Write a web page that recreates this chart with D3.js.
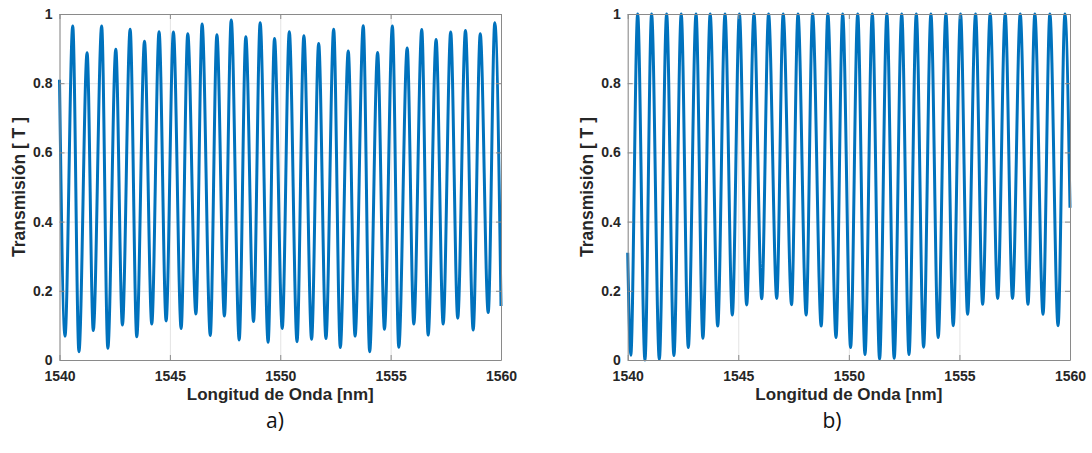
<!DOCTYPE html>
<html>
<head>
<meta charset="utf-8">
<script src="https://cdn.jsdelivr.net/npm/d3@7"></script>
<style>
  body { margin: 0; background: #fff; }
  svg { display: block; }
  text { font-family: "Liberation Sans", Arial, sans-serif; }
</style>
</head>
<body>
<div id="container"></div>
<script>
/* DATA */
const xTicks = [1540, 1545, 1550, 1555, 1560];
const yTicks = [0, 0.2, 0.4, 0.6, 0.8, 1];
const yTickLabels = ["0", "0.2", "0.4", "0.6", "0.8", "1"];

// a) curve: ends, troughs and peaks
const aStart = [1540, 0.81];
const aEnd = [1560, 0.156];
const aTroughNm = [1540.25, 1540.88, 1541.53, 1542.19, 1542.85, 1543.50, 1544.18, 1544.83, 1545.51, 1546.18,
  1546.83, 1547.47, 1548.14, 1548.79, 1549.45, 1550.09, 1550.76, 1551.42, 1552.07, 1552.72,
  1553.39, 1554.05, 1554.72, 1555.37, 1556.05, 1556.70, 1557.38, 1558.04, 1558.74, 1559.42];
const aTroughT = [0.069, 0.024, 0.085, 0.034, 0.101, 0.067, 0.104, 0.113, 0.091, 0.133,
  0.071, 0.127, 0.058, 0.111, 0.051, 0.091, 0.053, 0.060, 0.062, 0.036,
  0.069, 0.024, 0.089, 0.037, 0.104, 0.072, 0.104, 0.121, 0.087, 0.137];
const aPeakNm = [1540.60, 1541.25, 1541.91, 1542.55, 1543.20, 1543.85, 1544.51, 1545.16, 1545.81, 1546.46,
  1547.13, 1547.78, 1548.44, 1549.09, 1549.74, 1550.41, 1551.07, 1551.74, 1552.42, 1553.08,
  1553.76, 1554.41, 1555.08, 1555.75, 1556.41, 1557.06, 1557.72, 1558.39, 1559.06, 1559.72];
const aPeakT = [0.965, 0.888, 0.965, 0.898, 0.956, 0.921, 0.949, 0.948, 0.943, 0.971,
  0.940, 0.983, 0.934, 0.975, 0.929, 0.949, 0.937, 0.915, 0.956, 0.893,
  0.966, 0.889, 0.965, 0.902, 0.955, 0.926, 0.948, 0.952, 0.943, 0.975];

// b) curve
const bStart = [1540, 0.31];
const bEnd = [1560, 0.44];
const bTroughNm = [1540.14, 1540.78, 1541.43, 1542.09, 1542.74, 1543.40, 1544.07, 1544.73, 1545.38, 1546.06,
  1546.74, 1547.41, 1548.07, 1548.75, 1549.42, 1550.08, 1550.73, 1551.39, 1552.05, 1552.72,
  1553.38, 1554.04, 1554.72, 1555.37, 1556.05, 1556.73, 1557.40, 1558.10, 1558.78, 1559.46];
const bTroughT = [0.014, 0.0, 0.002, 0.013, 0.036, 0.063, 0.098, 0.130, 0.159, 0.177,
  0.178, 0.160, 0.130, 0.098, 0.065, 0.036, 0.016, 0.003, 0.005, 0.016,
  0.037, 0.065, 0.099, 0.132, 0.161, 0.178, 0.178, 0.161, 0.132, 0.099];
const bPeakNm = [1540.45, 1541.08, 1541.76, 1542.42, 1543.09, 1543.73, 1544.40, 1545.05, 1545.71, 1546.37,
  1547.03, 1547.70, 1548.36, 1549.05, 1549.72, 1550.40, 1551.06, 1551.72, 1552.39, 1553.05,
  1553.71, 1554.39, 1555.05, 1555.73, 1556.39, 1557.07, 1557.75, 1558.41, 1559.09, 1559.77];
const bPeakT = [1, 1, 1, 1, 1, 1, 1, 1, 1, 1,
  1, 1, 1, 1, 1, 1, 1, 1, 1, 1,
  1, 1, 1, 1, 1, 1, 1, 1, 1, 1];

/* CONSTANTS */
const width = 1092;
const height = 453;
const plotTop = 14, plotBottom = 360;
const lineColor = "#0072BD";
const axisColor = "#8a8a8a";
const gridColor = "#e3e3e3";

const panels = [
  { tag: "a)", left: 59.5, right: 501, tagX: 275, start: aStart, end: aEnd,
    tNm: aTroughNm, tT: aTroughT, pNm: aPeakNm, pT: aPeakT },
  { tag: "b)", left: 627.7, right: 1070, tagX: 832, start: bStart, end: bEnd,
    tNm: bTroughNm, tT: bTroughT, pNm: bPeakNm, pT: bPeakT }
];

const svg = d3.select("#container")
  .append("svg")
  .attr("width", width)
  .attr("height", height);

panels.forEach(p => {
  const xScale = d3.scaleLinear().domain([1540, 1560]).range([p.left, p.right]);
  const yScale = d3.scaleLinear().domain([0, 1]).range([plotBottom, plotTop]);

  const pts = [p.start]
    .concat(p.tNm.map((x, i) => [x, p.tT[i]]))
    .concat(p.pNm.map((x, i) => [x, p.pT[i]]))
    .concat([p.end])
    .sort((a, b) => a[0] - b[0]);

  const g = svg.append("g");

  // grid
  g.append("g")
    .attr("transform", `translate(0,${plotBottom})`)
    .call(d3.axisBottom(xScale).tickValues(xTicks).tickSize(-(plotBottom - plotTop)).tickFormat(""))
    .call(s => s.select(".domain").remove())
    .selectAll("line").attr("stroke", gridColor);
  g.append("g")
    .attr("transform", `translate(${p.left},0)`)
    .call(d3.axisLeft(yScale).tickValues(yTicks).tickSize(-(p.right - p.left)).tickFormat(""))
    .call(s => s.select(".domain").remove())
    .selectAll("line").attr("stroke", gridColor);

  // curve
  g.append("path")
    .datum(pts)
    .attr("fill", "none")
    .attr("stroke", lineColor)
    .attr("stroke-width", 3)
    .attr("stroke-linejoin", "round")
    .attr("d", d3.line()
      .x(d => xScale(d[0]))
      .y(d => yScale(d[1]))
      .curve(d3.curveMonotoneX));

  // axes (box with inward ticks)
  const styleAxis = s => {
    s.select(".domain").attr("stroke", axisColor);
    s.selectAll(".tick line").attr("stroke", axisColor);
    s.selectAll("text")
      .attr("fill", "#262626")
      .style("font-size", "14px")
      .style("font-weight", "bold");
  };

  g.append("g")
    .attr("transform", `translate(0,${plotBottom})`)
    .call(d3.axisBottom(xScale).tickValues(xTicks).tickSizeInner(-5).tickSizeOuter(0)
      .tickPadding(11).tickFormat(d3.format("d")))
    .call(styleAxis);
  g.append("g")
    .attr("transform", `translate(0,${plotTop})`)
    .call(d3.axisTop(xScale).tickValues(xTicks).tickSizeInner(-5).tickSizeOuter(0).tickFormat(""))
    .call(styleAxis);
  g.append("g")
    .attr("transform", `translate(${p.left},0)`)
    .call(d3.axisLeft(yScale).tickValues(yTicks).tickSizeInner(-5).tickSizeOuter(0)
      .tickPadding(7).tickFormat((d, i) => yTickLabels[i]))
    .call(styleAxis);
  g.append("g")
    .attr("transform", `translate(${p.right},0)`)
    .call(d3.axisRight(yScale).tickValues(yTicks).tickSizeInner(-5).tickSizeOuter(0).tickFormat(""))
    .call(styleAxis);

  // axis titles
  g.append("text")
    .attr("x", (p.left + p.right) / 2)
    .attr("y", 400)
    .attr("text-anchor", "middle")
    .attr("fill", "#262626")
    .style("font-size", "17px")
    .style("font-weight", "bold")
    .text("Longitud de Onda [nm]");

  g.append("text")
    .attr("transform", `translate(${p.left - 35},${(plotTop + plotBottom) / 2}) rotate(-90)`)
    .attr("text-anchor", "middle")
    .attr("fill", "#262626")
    .style("font-size", "17.5px")
    .style("font-weight", "bold")
    .text("Transmisión [ T ]");

  g.append("text")
    .attr("x", p.tagX)
    .attr("y", 428)
    .attr("text-anchor", "middle")
    .attr("fill", "#111")
    .style("font-family", "'Open Sans', sans-serif")
    .style("font-size", "21px")
    .text(p.tag);
});
</script>
</body>
</html>
